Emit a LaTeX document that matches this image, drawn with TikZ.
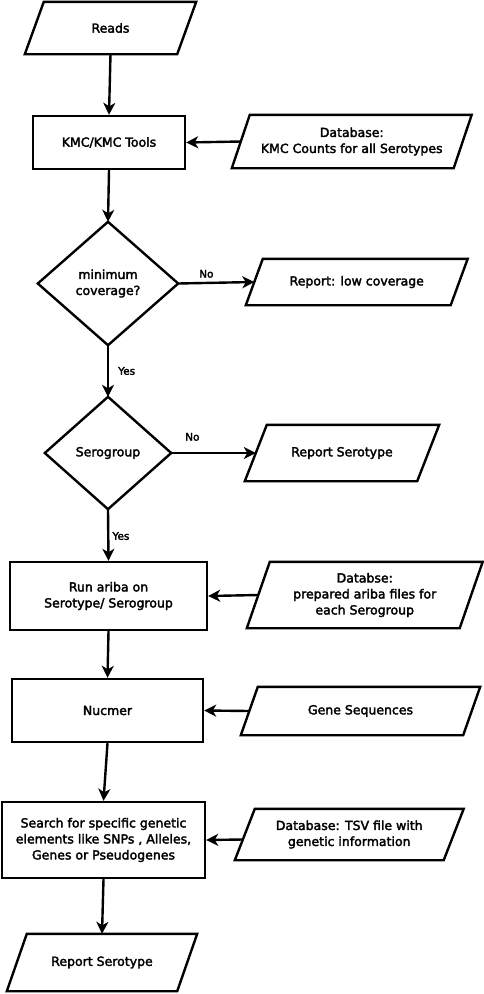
\documentclass[tikz,border=0pt]{standalone}
\usepackage{fontspec}
\setmainfont{DejaVu Sans}
\newfontfamily\dfont{DejaVu Sans}[FakeBold=2.5]
\usetikzlibrary{arrows.meta}
\tikzset{
  txt/.style={font=\dfont\fontsize{12.5}{16}\selectfont, align=center, inner sep=0pt},
  lbl/.style={font=\dfont\fontsize{10.5}{12}\selectfont, inner sep=0pt},
  boxn/.style={txt, draw, line width=2.4pt, minimum width=#1},
  hidden/.style={txt, draw=none},
  shapeline/.style={line width=2.4pt, line join=miter},
  arr/.style={line width=2.4pt, -{Stealth[length=12pt,width=12pt,inset=3.5pt]}},
}
% parallelogram around a hidden node: #1 name, #2 half slant
\newcommand{\paradraw}[2]{%
  \draw[shapeline] ([xshift=#2]#1.north west) -- ([xshift=#2]#1.north east)
    -- ([xshift=-#2]#1.south east) -- ([xshift=-#2]#1.south west) -- cycle;}
\newcommand{\diadraw}[1]{%
  \draw[shapeline] (#1.north) -- (#1.east) -- (#1.south) -- (#1.west) -- cycle;}
\begin{document}
\begin{tikzpicture}[x=1pt,y=-1pt]
\useasboundingbox (0,0) rectangle (484,994);
% input / output parallelograms
\node[hidden, minimum width=152pt, minimum height=52pt] (reads) at (110.5,28) {Reads};
\paradraw{reads}{9.5pt}
\node[hidden, minimum width=221.5pt, minimum height=53pt] (dbk) at (351.75,141.5) {Database:\\KMC Counts for all Serotypes};
\paradraw{dbk}{9pt}
\node[hidden, minimum width=204.5pt, minimum height=46pt] (low) at (356.75,282) {Report: low coverage};
\paradraw{low}{8.5pt}
\node[hidden, minimum width=172pt, minimum height=56pt] (rs1) at (342,453) {Report Serotype};
\paradraw{rs1}{11pt}
\node[hidden, minimum width=212.5pt, minimum height=66pt] (dba) at (364.75,595) {Databse:\\prepared ariba files for\\each Serogroup};
\paradraw{dba}{11.5pt}
\node[hidden, minimum width=222pt, minimum height=48pt] (gene) at (360.5,711) {Gene Sequences};
\paradraw{gene}{8.5pt}
\node[hidden, minimum width=208.5pt, minimum height=51pt] (tsv) at (349.25,834.5) {Database: TSV file with\\genetic information};
\paradraw{tsv}{10pt}
\node[hidden, minimum width=170pt, minimum height=57pt] (rs2) at (102,962.5) {Report Serotype};
\paradraw{rs2}{10pt}
% process boxes
\node[boxn=152pt, minimum height=53pt] (kmc) at (109,142.5) {KMC/KMC Tools};
\node[boxn=197pt, minimum height=68pt] (ariba) at (108.5,596) {Run ariba on\\Serotype/ Serogroup};
\node[boxn=191pt, minimum height=63pt] (nuc) at (107.5,710.5) {Nucmer};
\node[boxn=203pt, minimum height=76pt] (search) at (103.5,840) {Search for specific genetic\\elements like SNPs , Alleles,\\Genes or Pseudogenes};
% decisions
\node[hidden, minimum width=140pt, minimum height=123pt] (cov) at (108,283.5) {minimum\\coverage?};
\diadraw{cov}
\node[hidden, minimum width=126pt, minimum height=112pt] (sg) at (108,453) {Serogroup};
\diadraw{sg}
% connectors
\draw[arr] (reads.south) -- (kmc.north);
\draw[arr] (dbk.west) -- (kmc.east);
\draw[arr] (kmc.south) -- (cov.north);
\draw[arr] (cov.east) -- (low.west) node[lbl, pos=0.37, above=4pt] (no1) {No};
\draw[arr] (cov.south) -- (sg.north) node[lbl, pos=0.5, right=9pt] (yes1) {Yes};
\draw[arr] (sg.east) -- (rs1.west) node[lbl, pos=0.25, above=11pt] (no2) {No};
\draw[arr] (sg.south) -- (ariba.north) node[lbl, pos=0.52, right=3pt] (yes2) {Yes};
\draw[arr] (dba.west) -- (ariba.east);
\draw[arr] (ariba.south) -- (nuc.north);
\draw[arr] (gene.west) -- (nuc.east);
\draw[arr] (nuc.south) -- (search.north);
\draw[arr] ([xshift=-2pt,yshift=-5pt]tsv.west) -- (search.east);
\draw[arr] (search.south) -- (rs2.north);
\end{tikzpicture}
\end{document}
